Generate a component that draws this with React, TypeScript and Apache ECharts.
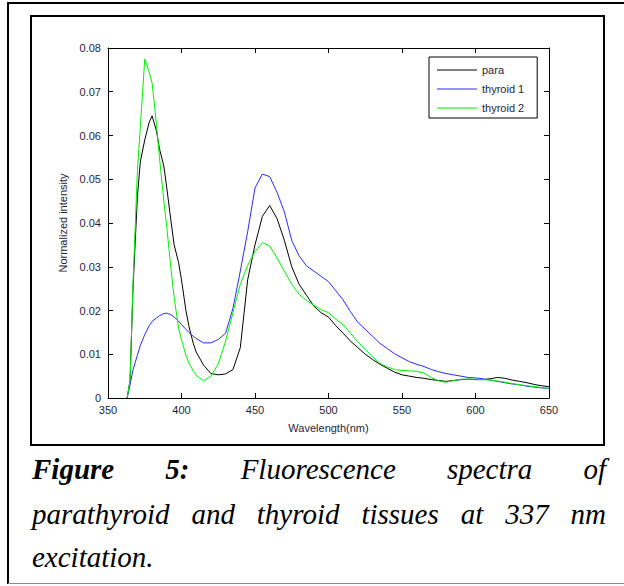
import React, { useEffect, useRef } from 'react';
import * as echarts from 'echarts';

const wavelengths = [
  363, 365, 367, 370, 372, 375, 378, 380, 383, 385, 388, 390, 393, 395, 398, 400, 403, 405, 408, 410,
  415, 420, 425, 430, 435, 440, 445, 450, 455, 460, 465, 470, 475, 480, 485, 490, 495, 500, 505, 510,
  515, 520, 525, 530, 535, 540, 545, 550, 555, 560, 565, 570, 575, 580, 585, 590, 595, 600, 605, 610,
  615, 620, 625, 630, 635, 640, 645, 650,
];

const para = [
  0, 0.004, 0.025, 0.046, 0.054, 0.059, 0.063, 0.0645, 0.061, 0.057, 0.053, 0.048, 0.04, 0.035, 0.031, 0.027, 0.02, 0.0165, 0.0125, 0.0105,
  0.0075, 0.0056, 0.0053, 0.0055, 0.0065, 0.0115, 0.027, 0.035, 0.0415, 0.044, 0.041, 0.036, 0.03, 0.026, 0.0235, 0.021, 0.0195, 0.0185, 0.0165, 0.0148,
  0.013, 0.0115, 0.01, 0.0088, 0.0077, 0.0068, 0.0059, 0.0053, 0.005, 0.0047, 0.0045, 0.0042, 0.004, 0.0038, 0.004, 0.0042, 0.0043, 0.0042, 0.0042, 0.0044,
  0.0047, 0.0045, 0.0041, 0.0038, 0.0035, 0.0031, 0.0028, 0.0026,
];

const thyroid1 = [
  0, 0.003, 0.0064, 0.0098, 0.012, 0.0145, 0.0165, 0.0175, 0.0183, 0.0188, 0.0193, 0.0194, 0.019, 0.0185, 0.0176, 0.0168, 0.0157, 0.015, 0.0141, 0.0136,
  0.0126, 0.0126, 0.0134, 0.0148, 0.0205, 0.029, 0.038, 0.048, 0.0512, 0.0506, 0.047, 0.0425, 0.036, 0.0325, 0.0302, 0.029, 0.0278, 0.0266, 0.0245, 0.0224,
  0.0197, 0.0173, 0.0157, 0.0141, 0.0125, 0.0113, 0.0101, 0.0092, 0.0083, 0.0077, 0.0072, 0.0065, 0.006, 0.0056, 0.0053, 0.005, 0.0047, 0.0046, 0.0044, 0.0041,
  0.0038, 0.0035, 0.0032, 0.003, 0.0027, 0.0025, 0.0023, 0.0022,
];

const thyroid2 = [
  0, 0.004, 0.026, 0.052, 0.062, 0.0775, 0.0745, 0.072, 0.0625, 0.055, 0.045, 0.039, 0.029, 0.023, 0.016, 0.0133, 0.0098, 0.008, 0.0062, 0.0052,
  0.0039, 0.005, 0.0078, 0.013, 0.0195, 0.026, 0.0303, 0.0335, 0.0355, 0.0347, 0.032, 0.029, 0.026, 0.0237, 0.0223, 0.0212, 0.0202, 0.0195, 0.018, 0.0167,
  0.0148, 0.0128, 0.0111, 0.0094, 0.0079, 0.0071, 0.0065, 0.0063, 0.0062, 0.0061, 0.0057, 0.0047, 0.0039, 0.0036, 0.004, 0.0043, 0.0043, 0.0043, 0.0042, 0.0041,
  0.0039, 0.0036, 0.0033, 0.003, 0.0028, 0.0026, 0.0024, 0.0022,
];

const seriesNames = ['para', 'thyroid 1', 'thyroid 2'];
const seriesValues = [para, thyroid1, thyroid2];
const seriesColors = ['#000000', '#2a2aff', '#00f000'];

const xAxisTitle = 'Wavelength(nm)';
const yAxisTitle = 'Normalized intensity';

const captionLines: { text: string; bold: boolean }[][] = [
  [
    { text: 'Figure', bold: true },
    { text: '5:', bold: true },
    { text: 'Fluorescence', bold: false },
    { text: 'spectra', bold: false },
    { text: 'of', bold: false },
  ],
  [
    { text: 'parathyroid', bold: false },
    { text: 'and', bold: false },
    { text: 'thyroid', bold: false },
    { text: 'tissues', bold: false },
    { text: 'at', bold: false },
    { text: '337', bold: false },
    { text: 'nm', bold: false },
  ],
  [{ text: 'excitation.', bold: false }],
];

const CAP_FONT = 29;
const CAP_FAMILY = 'Liberation Serif';

function buildCaption(): any[] {
  const canvas = document.createElement('canvas');
  const ctx = canvas.getContext('2d')!;
  const x0 = 32;
  const x1 = 606;
  const ys = [469, 514, 557];
  const out: any[] = [];
  captionLines.forEach((words, li) => {
    const widths = words.map((w) => {
      ctx.font = `italic ${w.bold ? 'bold ' : ''}${CAP_FONT}px "${CAP_FAMILY}"`;
      return ctx.measureText(w.text).width;
    });
    const justify = li < captionLines.length - 1;
    const total = widths.reduce((a, b) => a + b, 0);
    const gap = justify && words.length > 1 ? (x1 - x0 - total) / (words.length - 1) : CAP_FONT * 0.25;
    let x = x0;
    words.forEach((w, i) => {
      out.push({
        type: 'text',
        x,
        y: ys[li],
        style: {
          text: w.text,
          fontFamily: CAP_FAMILY,
          fontStyle: 'italic',
          fontWeight: w.bold ? 'bold' : 'normal',
          fontSize: CAP_FONT,
          fill: '#000',
          align: 'left',
          verticalAlign: 'middle',
        },
      });
      x += widths[i] + gap;
    });
  });
  return out;
}

export default function App() {
  const ref = useRef<HTMLDivElement>(null);
  useEffect(() => {
    if (!ref.current) return;
    const chart = echarts.init(ref.current, undefined, { renderer: 'svg' });
    const labelFont = { fontFamily: 'Arial, "Liberation Sans", sans-serif', fontSize: 11, color: '#1e1e3c' };
    const option: any = {
      animation: false,
      backgroundColor: '#fff',
      grid: { left: 108, top: 48, width: 441, height: 350, containLabel: false },
      xAxis: [
        {
          type: 'value',
          min: 350,
          max: 650,
          interval: 50,
          position: 'bottom',
          name: xAxisTitle,
          nameLocation: 'middle',
          nameGap: 24,
          nameTextStyle: { ...labelFont },
          axisLine: { show: true, lineStyle: { color: '#000', width: 1 } },
          axisTick: { show: true, inside: true, length: 5, lineStyle: { color: '#000' } },
          axisLabel: { ...labelFont, margin: 6 },
          splitLine: { show: false },
        },
        {
          type: 'value',
          min: 350,
          max: 650,
          interval: 50,
          position: 'top',
          axisLine: { show: true, onZero: false, lineStyle: { color: '#000', width: 1 } },
          axisTick: { show: true, inside: true, length: 5, lineStyle: { color: '#000' } },
          axisLabel: { show: false },
          splitLine: { show: false },
        },
      ],
      yAxis: [
        {
          type: 'value',
          min: 0,
          max: 0.08,
          interval: 0.01,
          position: 'left',
          name: yAxisTitle,
          nameLocation: 'middle',
          nameGap: 40,
          nameRotate: 90,
          nameTextStyle: { ...labelFont },
          axisLine: { show: true, lineStyle: { color: '#000', width: 1 } },
          axisTick: { show: true, inside: true, length: 5, lineStyle: { color: '#000' } },
          axisLabel: {
            ...labelFont,
            margin: 7,
            formatter: (v: number) => (v === 0 ? '0' : v.toFixed(2)),
          },
          splitLine: { show: false },
        },
        {
          type: 'value',
          min: 0,
          max: 0.08,
          interval: 0.01,
          position: 'right',
          axisLine: { show: true, onZero: false, lineStyle: { color: '#000', width: 1 } },
          axisTick: { show: true, inside: true, length: 5, lineStyle: { color: '#000' } },
          axisLabel: { show: false },
          splitLine: { show: false },
        },
      ],
      legend: {
        orient: 'vertical',
        left: 429,
        top: 57,
        icon: 'rect',
        itemWidth: 40,
        itemHeight: 1,
        itemGap: 5,
        padding: [6, 13, 3, 8],
        borderColor: '#000',
        borderWidth: 1,
        backgroundColor: '#fff',
        textStyle: { ...labelFont, color: '#1e1e3c', lineHeight: 14 },
        data: seriesNames,
      },
      series: seriesNames.map((name, si) => ({
        name,
        type: 'line',
        xAxisIndex: 0,
        yAxisIndex: 0,
        showSymbol: false,
        symbol: 'none',
        smooth: false,
        lineStyle: { color: seriesColors[si], width: 1 },
        itemStyle: { color: seriesColors[si] },
        data: wavelengths.map((w, i) => [w, seriesValues[si][i]]),
      })),
      graphic: [
        { type: 'line', shape: { x1: 8, y1: 2, x2: 8, y2: 584 }, style: { stroke: '#000', lineWidth: 2 } },
        { type: 'line', shape: { x1: 8, y1: 3, x2: 624, y2: 3 }, style: { stroke: '#000', lineWidth: 2 } },
        { type: 'line', shape: { x1: 8, y1: 583.5, x2: 624, y2: 583.5 }, style: { stroke: '#8a8a8a', lineWidth: 1 } },
        {
          type: 'rect',
          shape: { x: 31, y: 16, width: 573, height: 429 },
          style: { fill: 'none', stroke: '#000', lineWidth: 2 },
        },
        ...buildCaption(),
      ],
    };
    chart.setOption(option);
    return () => chart.dispose();
  }, []);
  return (
    <div
      ref={ref}
      style={{ position: 'absolute', left: 0, top: 0, width: 624, height: 586 }}
    />
  );
}
